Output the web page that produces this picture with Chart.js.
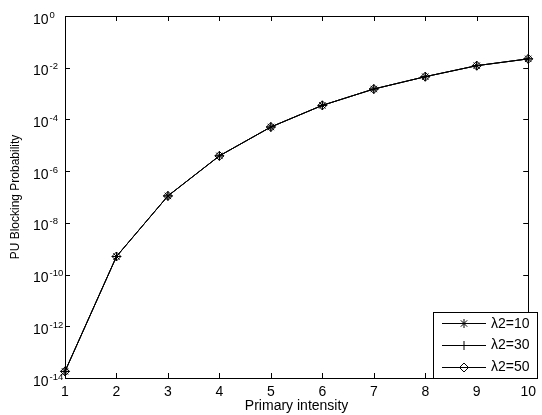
<!DOCTYPE html>
<html>
<head>
<meta charset="utf-8">
<script src="https://cdn.jsdelivr.net/npm/chart.js@4"></script>
<style>
html,body{margin:0;padding:0;background:#fff;}
#wrap{width:542px;height:415px;position:relative;}
</style>
</head>
<body>
<div id="wrap"><canvas id="c" width="542" height="415"></canvas></div>
<script>
// ---- data ----
const intensity = [1, 2, 3, 4, 5, 6, 7, 8, 9, 10];
const lambda10 = [1.8e-14, 5.0e-10, 1.1e-7, 3.9e-6, 5.1e-5, 3.5e-4, 1.5e-3, 4.5e-3, 1.2e-2, 2.2e-2];
const lambda30 = [1.8e-14, 5.0e-10, 1.1e-7, 3.9e-6, 5.1e-5, 3.5e-4, 1.5e-3, 4.5e-3, 1.2e-2, 2.2e-2];
const lambda50 = [1.8e-14, 5.0e-10, 1.1e-7, 3.9e-6, 5.1e-5, 3.5e-4, 1.5e-3, 4.5e-3, 1.2e-2, 2.2e-2];
const seriesLabels = ['\u03bb2=10', '\u03bb2=30', '\u03bb2=50'];
const yTickExponents = [0, -2, -4, -6, -8, -10, -12, -14];
const xTicks = [1, 2, 3, 4, 5, 6, 7, 8, 9, 10];
const xTitle = 'Primary intensity';
const yTitle = 'PU Blocking Probability';

const FONT = '"Liberation Sans", Arial, Helvetica, sans-serif';

function pts(arr){ return intensity.map((x,i)=>({x:x, y:arr[i]})); }

const styles = ['star', 'cross', 'rectRot'];
const datasets = [lambda10, lambda30, lambda50].map((arr, i) => ({
  label: seriesLabels[i],
  data: pts(arr),
  borderColor: '#000',
  backgroundColor: 'rgba(0,0,0,0)',
  borderWidth: 1,
  pointStyle: styles[i],
  pointRadius: 4.5,
  pointBorderColor: '#000',
  pointBackgroundColor: 'rgba(0,0,0,0)',
  pointBorderWidth: 1,
  tension: 0,
  clip: false,
  order: 2 - i
}));

const framePlugin = {
  id: 'frame',
  afterDatasetsDraw(chart) {
    const ctx = chart.ctx;
    const a = chart.chartArea;
    const xs = chart.scales.x, ys = chart.scales.y;
    ctx.save();
    ctx.strokeStyle = '#000';
    ctx.lineWidth = 1;
    // frame
    ctx.strokeRect(Math.round(a.left)+0.5, Math.round(a.top)+0.5, Math.round(a.right-a.left), Math.round(a.bottom-a.top));
    const TL = 5;
    ctx.beginPath();
    xTicks.forEach(v => {
      const px = Math.round(xs.getPixelForValue(v)) + 0.5;
      ctx.moveTo(px, a.bottom); ctx.lineTo(px, a.bottom - TL);
      ctx.moveTo(px, a.top); ctx.lineTo(px, a.top + TL);
    });
    yTickExponents.forEach(e => {
      const py = Math.round(ys.getPixelForValue(Math.pow(10, e))) + 0.5;
      ctx.moveTo(a.left, py); ctx.lineTo(a.left + TL, py);
      ctx.moveTo(a.right, py); ctx.lineTo(a.right - TL, py);
    });
    ctx.stroke();
    // y tick labels (10 with superscript exponent)
    ctx.fillStyle = '#000';
    ctx.textBaseline = 'alphabetic';
    ctx.textAlign = 'left';
    yTickExponents.forEach(e => {
      const py = ys.getPixelForValue(Math.pow(10, e));
      ctx.font = '14px ' + FONT;
      ctx.fillText('10', 33, py + 7.5);
      const w = ctx.measureText('10').width;
      ctx.font = '9.5px ' + FONT;
      ctx.fillText(e === 0 ? '0' : '-' + Math.abs(e), 33 + w + 1, py + 1.5);
    });
    // legend
    const lx = 433, ly = 312, lw = 104, lh = 66;
    ctx.fillStyle = '#fff';
    ctx.fillRect(lx, ly, lw, lh);
    ctx.strokeRect(lx + 0.5, ly + 0.5, lw, lh);
    const rows = [323, 344.5, 366.5];
    chart.data.datasets.forEach((ds, i) => {
      const y = rows[i];
      ctx.beginPath();
      ctx.moveTo(442, Math.round(y) + 0.5);
      ctx.lineTo(486, Math.round(y) + 0.5);
      ctx.stroke();
      ctx.fillStyle = 'rgba(0,0,0,0)';
      ctx.strokeStyle = '#000';
      Chart.helpers.drawPoint(ctx, {pointStyle: ds.pointStyle, radius: 4.5, borderWidth: 1, rotation: 0}, 464, Math.round(y) + 0.5);
      ctx.fillStyle = '#000';
      ctx.font = '14px ' + FONT;
      ctx.textBaseline = 'middle';
      ctx.fillText(ds.label, 491, y + 1);
    });
    ctx.restore();
  }
};

new Chart(document.getElementById('c'), {
  type: 'line',
  data: { datasets: datasets },
  options: {
    responsive: false,
    animation: false,
    devicePixelRatio: 1,
    layout: { padding: { top: 16, right: 5, left: 0, bottom: 0 } },
    plugins: { legend: { display: false }, tooltip: { enabled: false } },
    scales: {
      x: {
        type: 'linear', min: 1, max: 10,
        grid: { display: false, drawTicks: false },
        border: { display: false },
        ticks: { stepSize: 1, color: '#000', font: { family: FONT, size: 14 }, padding: 6, maxRotation: 0 },
        title: { display: true, text: xTitle, color: '#000', font: { family: FONT, size: 14 }, padding: { top: 0, bottom: 0 } },
        afterFit(s) { s.height = 37; }
      },
      y: {
        type: 'logarithmic', min: 1e-14, max: 1,
        grid: { display: false, drawTicks: false },
        border: { display: false },
        ticks: { display: false },
        title: { display: true, text: yTitle, color: '#000', font: { family: FONT, size: 12 }, padding: { top: 8, bottom: 0 } },
        afterFit(s) { s.width = 65; }
      }
    }
  },
  plugins: [framePlugin]
});
</script>
</body>
</html>
